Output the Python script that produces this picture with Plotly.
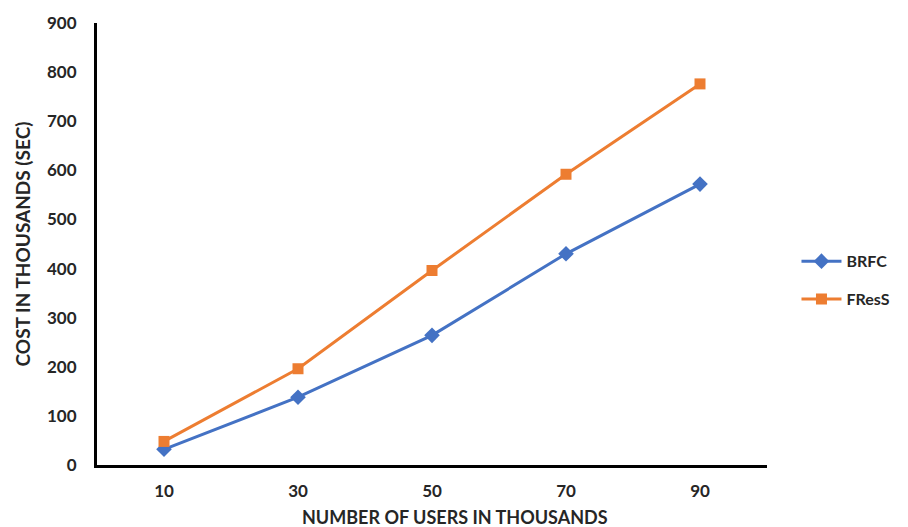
import plotly.graph_objects as go

users = ["10", "30", "50", "70", "90"]
brfc = [32, 138, 264, 430, 572]
fress = [48, 196, 396, 592, 776]
y_ticks = [0, 100, 200, 300, 400, 500, 600, 700, 800, 900]

FONT = "Lato"
TEXT = "#262626"

fig = go.Figure()
fig.add_trace(go.Scatter(
    x=users, y=brfc, name="BRFC", mode="lines+markers", legendgroup="brfc",
    line=dict(color="#4472C4", width=3),
    marker=dict(symbol="diamond", size=12, color="#4472C4"),
))
fig.add_trace(go.Scatter(
    x=users, y=fress, name="FResS", mode="lines+markers", legendgroup="fress",
    line=dict(color="#ED7D31", width=3),
    marker=dict(symbol="square", size=11, color="#ED7D31"),
))

fig.update_layout(
    width=908, height=527,
    margin=dict(l=97, r=138, t=15, b=62),
    paper_bgcolor="white", plot_bgcolor="white",
    font=dict(family=FONT, color=TEXT, size=16),
    legend=dict(
        x=1.044, y=0.418, xanchor="left", yanchor="middle",
        font=dict(family=FONT, size=16, color=TEXT, weight="bold"),
        tracegroupgap=14, itemwidth=40, bgcolor="rgba(0,0,0,0)",
    ),
    xaxis=dict(
        type="category", showgrid=False, zeroline=False,
        showline=True, linecolor="black", linewidth=3,
        ticks="", tickfont=dict(family=FONT, size=17, color=TEXT, weight="bold"),
        ticklabelstandoff=9,
        range=[-0.5, 4.5],
    ),
    yaxis=dict(
        range=[0, 900], tickvals=y_ticks, showgrid=False, zeroline=False,
        showline=True, linecolor="black", linewidth=3,
        ticks="", tickfont=dict(family=FONT, size=17, color=TEXT, weight="bold"),
        ticklabelstandoff=14,
        title=dict(text="COST IN THOUSANDS (SEC)", standoff=12,
                   font=dict(family=FONT, size=19, color=TEXT, weight="bold")),
    ),
    annotations=[dict(
        text="NUMBER OF USERS IN THOUSANDS", showarrow=False,
        xref="paper", yref="paper", x=(457 - 97) / 673, y=-53 / 450,
        xanchor="center", yanchor="middle",
        font=dict(family=FONT, size=18, color=TEXT, weight="bold"),
    )],
)

fig.write_html("out.html")
